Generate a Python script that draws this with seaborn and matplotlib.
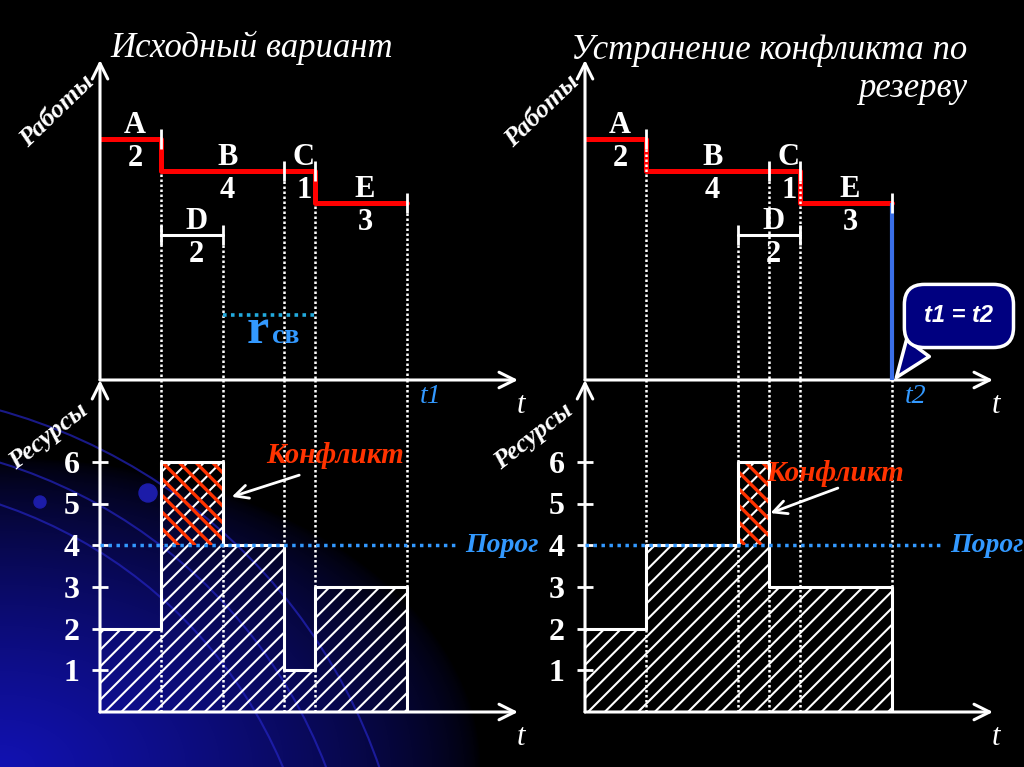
import numpy as np
import matplotlib
matplotlib.use("Agg")
import matplotlib.pyplot as plt
import seaborn as sns
from matplotlib.patches import Arc, Circle

# --- данные: работы ---
jobs = ["A", "B", "C", "D", "E"]
durations = [2, 4, 1, 2, 3]
job_rows = [0, 1, 1, 3, 2]            # строка работы на диаграмме
critical_path = ["A", "B", "C", "E"]
starts_initial = [0, 2, 6, 2, 7]      # исходный вариант
starts_shifted = [0, 2, 6, 5, 7]      # D сдвинута в пределах резерва
slack_D = 3

# --- данные: ресурсы (ступенчатый профиль) ---
res_edges_initial = [0, 2, 4, 6, 7, 10]
res_levels_initial = [2, 6, 4, 1, 3]
res_edges_shifted = [0, 2, 5, 6, 7, 10]
res_levels_shifted = [2, 4, 6, 3, 3]
res_ticks = [1, 2, 3, 4, 5, 6]
threshold = 4

# --- оформление ---
W, H = 1024, 767
PX_T = 30.65      # пикселей на единицу времени
PX_ROW = 32.0     # пикселей на строку работы
PX_RES = 41.7     # пикселей на единицу ресурса
WHITE = "white"
RED = "#ff0000"
ORANGE = "#ff3300"
BLUE = "#3399ff"
SERIF = "Liberation Serif"

sns.set_style("white")
plt.rcParams.update({
    "figure.facecolor": "black",
    "axes.facecolor": "none",
    "text.color": WHITE,
    "axes.grid": False,
    "hatch.linewidth": 1.5,
})
plt.rcParams["font.family"] = [SERIF, "DejaVu Serif"]

fig = plt.figure(figsize=(W / 100, H / 100), dpi=100)

# фон: синее свечение в левом нижнем углу
bg = fig.add_axes([0, 0, 1, 1], zorder=-10)
bg.set_axis_off()
yy, xx = np.mgrid[0:H, 0:W]
dist = np.sqrt((xx / 480.0) ** 2 + ((H - yy) / 310.0) ** 2)
glow = np.clip(1 - dist, 0, 1) ** 0.65
img = np.zeros((H, W, 3))
img[..., 0] = 0.07 * glow
img[..., 1] = 0.07 * glow
img[..., 2] = 0.70 * glow
bg.imshow(img, extent=(0, W, H, 0), aspect="auto")
for r in (470, 510, 560):
    bg.add_patch(Arc((-150, 950), 2 * r, 2 * r, theta1=-75, theta2=0,
                     color="#2424c0", lw=1.5, alpha=0.7))
bg.add_patch(Circle((148, 493), 9, color="#1c1ca8"))
bg.add_patch(Circle((40, 502), 6, color="#1c1ca8"))
bg.set_xlim(0, W)
bg.set_ylim(H, 0)


def add_px_axes(x0, y0, x1, y1):
    ax = fig.add_axes([x0 / W, 1 - y1 / H, (x1 - x0) / W, (y1 - y0) / H])
    ax.set_facecolor("none")
    for s in ax.spines.values():
        s.set_visible(False)
    return ax


def axis_arrows(ax):
    kw = dict(arrowstyle="->,head_length=0.7,head_width=0.35", color=WHITE,
              lw=2.2, shrinkA=0, shrinkB=0, mutation_scale=16)
    ax.annotate("", xy=(0, 1), xytext=(0, 0), xycoords="axes fraction", arrowprops=kw)
    ax.annotate("", xy=(1, 0), xytext=(0, 0), xycoords="axes fraction", arrowprops=kw)
    ax.annotate("t", xy=(1, 0), xycoords="axes fraction", xytext=(2, -8),
                textcoords="offset points", ha="center", va="top",
                fontsize=22, style="italic", color=WHITE)


def draw_panel(x0, x1, starts, edges, levels, t_name, shifted):
    t_max = (x1 - x0) / PX_T
    row_bottom = (380 - 139) / PX_ROW
    row_top = row_bottom - 320 / PX_ROW
    res_top = 332 / PX_RES

    axw = add_px_axes(x0, 60, x1, 380)
    axr = add_px_axes(x0, 380, x1, 712)
    axw.set_xticks([])
    axw.set_yticks([])

    ends = [s + d for s, d in zip(starts, durations)]
    t_end = max(ends)
    dot_z = 4 if shifted else 1

    # пунктирные вертикали по границам работ
    for t in sorted(set(starts + ends) - {0}):
        top_row = min(r for s, e, r in zip(starts, ends, job_rows) if t in (s, e))
        if not (shifted and t == t_end):
            axw.vlines(t, top_row + 0.3, row_bottom, colors=WHITE,
                       linestyles=(0, (1, 1)), lw=1.8, zorder=dot_z)
        axr.vlines(t, 0, res_top, colors=WHITE, linestyles=(0, (1, 1)),
                   lw=1.8, zorder=4)

    # критический путь
    idx = [jobs.index(j) for j in critical_path]
    path_x = [starts[i] for i in idx] + [ends[idx[-1]]]
    path_y = [job_rows[i] for i in idx] + [job_rows[idx[-1]]]
    sns.lineplot(x=path_x, y=path_y, ax=axw, drawstyle="steps-post",
                 estimator=None, sort=False, color=RED, linewidth=3.6, zorder=3)
    axw.plot([ends[i] for i in idx], [job_rows[i] for i in idx], ls="none",
             marker="|", ms=14, mew=2, color=WHITE, zorder=5)

    # работа D с резервом
    d = jobs.index("D")
    axw.plot([starts[d], ends[d]], [job_rows[d]] * 2, color=WHITE, lw=2.2,
             marker="|", ms=14, mew=2, zorder=5)

    for name, s, dur, row in zip(jobs, starts, durations, job_rows):
        xm = s + dur / 2 + 0.15
        axw.text(xm, row - 0.18, name, ha="center", va="baseline", fontsize=22,
                 fontweight="bold", color=WHITE)
        axw.text(xm, row + 0.85, str(dur), ha="center", va="baseline", fontsize=22,
                 fontweight="bold", color=WHITE)

    if shifted:
        axw.vlines(t_end, job_rows[jobs.index("E")], row_bottom, colors="#3a6fe8",
                   lw=3, zorder=4)
        axw.annotate("t1 = t2", xy=(t_end + 0.16, row_bottom - 0.08),
                     xytext=(12.2, 5.53), ha="center", va="center", fontsize=17,
                     fontweight="bold", style="italic", color=WHITE,
                     family="Liberation Sans",
                     bbox=dict(boxstyle="round,pad=0.85", fc="#000080", ec=WHITE, lw=2.5),
                     arrowprops=dict(arrowstyle="wedge,tail_width=1.2,shrink_factor=0.5",
                                     fc="#000080", ec=WHITE, lw=2.5, relpos=(0.15, 0.1),
                                     shrinkA=0, shrinkB=0),
                     annotation_clip=False, zorder=6)
    else:
        r_row = 5.5
        axw.plot([ends[d], ends[d] + slack_D], [r_row, r_row], color="#22aadd",
                 lw=2.6, ls=(0, (1, 1.2)))
        xm = ends[d] + slack_D / 2
        axw.text(xm - 0.35, r_row + 0.87, "r", ha="center", va="baseline",
                 fontsize=36, fontweight="bold", color=BLUE)
        axw.text(xm + 0.57, r_row + 0.87, "св", ha="center", va="baseline",
                 fontsize=20, fontweight="bold", color=BLUE)

    axw.annotate(t_name, xy=(t_end, 0), xycoords=("data", "axes fraction"),
                 xytext=(17, -12), textcoords="offset points", ha="center",
                 va="center", fontsize=20, style="italic", color=BLUE)

    axw.set_xlim(0, t_max)
    axw.set_ylim(row_bottom, row_top)
    axis_arrows(axw)

    # ресурсы
    mids = [(a + b) / 2 for a, b in zip(edges[:-1], edges[1:])]
    sns.histplot(x=mids, weights=levels, bins=edges, ax=axr, element="bars",
                 fill=False, color=WHITE, hatch="//", linewidth=0, alpha=1, zorder=2)
    for a, b, lv in zip(edges[:-1], edges[1:], levels):
        if lv > threshold:
            bars = axr.bar(a, lv - threshold, b - a, bottom=threshold, align="edge",
                           facecolor="none", edgecolor=ORANGE, linewidth=0,
                           hatch="\\\\", zorder=2.5)
            for p in bars:
                if hasattr(p, "set_hatch_linewidth"):
                    p.set_hatch_linewidth(2.4)
    sns.lineplot(x=edges + [edges[-1]], y=levels + [levels[-1], 0], ax=axr,
                 drawstyle="steps-post", estimator=None, sort=False,
                 color=WHITE, linewidth=2.2, zorder=3)

    axr.plot([0, 11.6], [threshold, threshold], color=BLUE, lw=2.5,
             ls=(0, (1, 1.3)), zorder=4)
    axr.text(11.9, threshold, "Порог", ha="left", va="center", fontsize=20,
             fontweight="bold", style="italic", color=BLUE, clip_on=False)

    # конфликт
    peak = max(range(len(levels)), key=lambda i: levels[i])
    p_end = edges[peak + 1]
    if shifted:
        txt, tail, tip = (8.15, 5.73), (8.25, 5.37), (p_end + 0.05, 4.77)
    else:
        txt, tail, tip = (7.67, 6.14), (6.5, 5.68), (p_end + 0.3, 5.16)
    axr.text(*txt, "Конфликт", ha="center", va="center", fontsize=21,
             fontweight="bold", style="italic", color=ORANGE, zorder=6)
    axr.annotate("", xy=tip, xytext=tail,
                 arrowprops=dict(arrowstyle="->,head_length=0.6,head_width=0.3",
                                 color=WHITE, lw=2, mutation_scale=16,
                                 shrinkA=0, shrinkB=0), zorder=6)

    axr.set_xlabel("")
    axr.set_ylabel("")
    axr.set_xticks([])
    axr.set_yticks(res_ticks)
    axr.set_yticklabels([str(v) for v in res_ticks], fontsize=23,
                        fontweight="bold", color=WHITE)
    axr.tick_params(axis="y", left=True, direction="inout", length=11, width=2,
                    color=WHITE, pad=9)
    axr.set_xlim(0, t_max)
    axr.set_ylim(0, res_top)
    axis_arrows(axr)

    fig.text((x0 - 43) / W, 1 - 111 / H, "Работы", rotation=44, ha="center",
             va="center", fontsize=19, fontweight="bold", style="italic", color=WHITE)
    fig.text((x0 - 52) / W, 1 - 436 / H, "Ресурсы", rotation=38, ha="center",
             va="center", fontsize=19, fontweight="bold", style="italic", color=WHITE)


draw_panel(100, 518, starts_initial, res_edges_initial, res_levels_initial,
           "t1", shifted=False)
draw_panel(585, 993, starts_shifted, res_edges_shifted, res_levels_shifted,
           "t2", shifted=True)

fig.text(110 / W, 1 - 57 / H, "Исходный вариант", ha="left", va="baseline",
         fontsize=25, style="italic", color=WHITE)
fig.text(967 / W, 1 - 59 / H, "Устранение конфликта по", ha="right",
         va="baseline", fontsize=25, style="italic", color=WHITE)
fig.text(967 / W, 1 - 97 / H, "резерву", ha="right", va="baseline",
         fontsize=25, style="italic", color=WHITE)

fig.savefig("out.png", dpi=100, facecolor="black")
